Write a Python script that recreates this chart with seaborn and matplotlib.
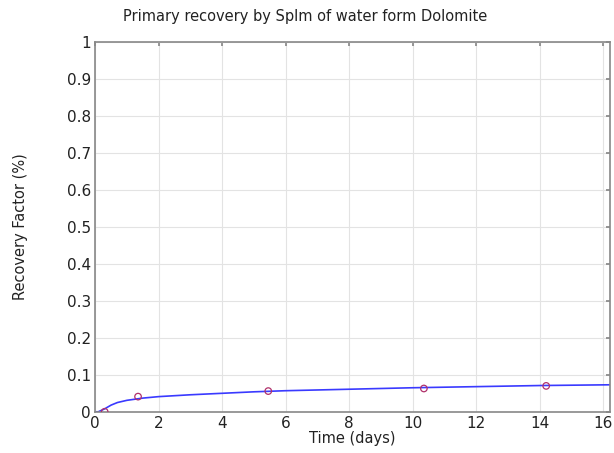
import matplotlib
matplotlib.use("Agg")
import matplotlib.pyplot as plt
import seaborn as sns
import pandas as pd

# Data
curve_t = [0.0, 0.1, 0.3, 0.5, 0.7, 1.0, 1.5, 2.0, 3.0, 4.0, 5.0, 6.0, 8.0, 10.0, 12.0, 14.0, 16.2]
curve_rf = [0.0, 0.0, 0.008, 0.018, 0.025, 0.031, 0.037, 0.041, 0.046, 0.050, 0.054, 0.057, 0.061, 0.065, 0.068, 0.071, 0.073]
obs_t = [0.3, 1.35, 5.45, 10.35, 14.2]
obs_rf = [0.0, 0.041, 0.056, 0.063, 0.070]

title = "Primary recovery by Splm of water form Dolomite"
xlabel = "Time (days)"
ylabel = "Recovery Factor (%)"

sns.set_theme(style="white")
plt.rcParams['font.family'] = ['DejaVu Sans']

fig = plt.figure(figsize=(6.14, 4.53), dpi=100)
ax = fig.add_axes([0.155, 0.091, 0.838, 0.816])

curve = pd.DataFrame({"t": curve_t, "rf": curve_rf})
obs = pd.DataFrame({"t": obs_t, "rf": obs_rf})

sns.lineplot(data=curve, x="t", y="rf", ax=ax, color="#3a3aff", linewidth=1.2)
sns.scatterplot(data=obs, x="t", y="rf", ax=ax, marker="o", s=22,
                facecolor="none", edgecolor="#b0306a", linewidth=0.9, zorder=3)

ax.set_xlim(0, 16.2)
ax.set_ylim(0, 1)
ax.set_xticks(range(0, 17, 2))
ax.set_yticks([i / 10 for i in range(11)])
ax.set_yticklabels(["0"] + [f"{i/10:.1f}" for i in range(1, 10)] + ["1"])
ax.grid(True, color="#e3e3e3", linewidth=0.8)
for s in ax.spines.values():
    s.set_color("#888888")
    s.set_linewidth(1.2)
ax.tick_params(direction="in", top=True, right=True, length=3, color="#888888",
               labelsize=11, labelcolor="#222222", pad=3)
ax.set_xlabel(xlabel, fontsize=10.5, color="#222222", labelpad=0)
ax.set_ylabel(ylabel, fontsize=10.5, color="#222222", labelpad=28)
fig.text(305 / 614, 1 - 17 / 453, title, fontsize=10.5, color="#222222",
         ha="center", va="center")

fig.savefig("out.png", dpi=100)
